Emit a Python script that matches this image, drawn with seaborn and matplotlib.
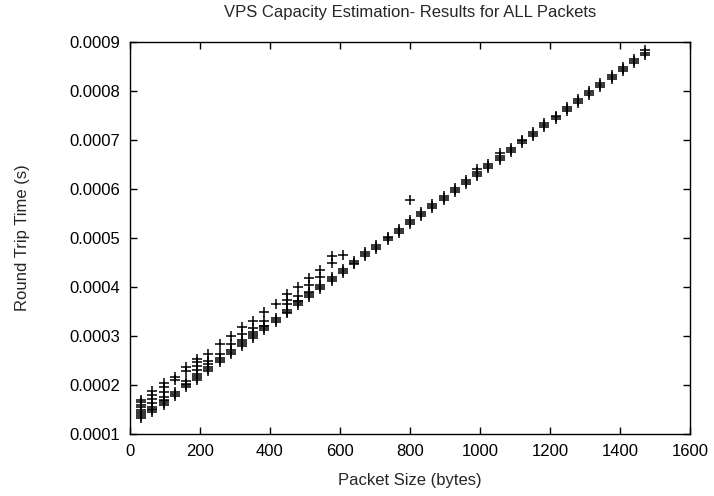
"""VPS capacity estimation: round trip time against packet size."""

import matplotlib

matplotlib.use("Agg")

import matplotlib.pyplot as plt
import pandas as pd
import seaborn as sns

# packet sizes probed (bytes)
sizes = [32, 64, 96, 128, 160, 192, 224, 256, 288, 320, 352, 384, 416, 448,
         480, 512, 544, 576, 608, 640, 672, 704, 736, 768, 800, 832, 864,
         896, 928, 960, 992, 1024, 1056, 1088, 1120, 1152, 1184, 1216, 1248,
         1280, 1312, 1344, 1376, 1408, 1440, 1472]

# dense group of samples per size, in microseconds
rtt_min = [132, 144, 160, 177, 195, 211, 229, 247, 264, 280, 296, 313, 329,
           346, 363, 380, 396, 412, 428, 446, 463, 478, 495, 511, 528, 545,
           561, 578, 594, 610, 627, 643, 660, 676, 693, 709, 726, 742, 759,
           775, 792, 808, 825, 841, 858, 874]
rtt_median = [136, 148, 164, 181, 199, 215, 233, 251, 268, 284, 300, 317, 333,
              350, 367, 384, 400, 416, 432, 450, 467, 482, 499, 515, 532, 549,
              565, 582, 598, 614, 631, 647, 664, 680, 697, 713, 730, 746, 763,
              779, 796, 812, 829, 845, 862, 878]
rtt_max = [140, 152, 168, 185, 203, 219, 237, 255, 272, 288, 304, 321, 337,
           354, 371, 388, 404, 420, 436, 454, 472, 486, 503, 519, 536, 553,
           569, 586, 602, 618, 635, 651, 668, 684, 701, 717, 734, 750, 767,
           783, 800, 816, 833, 849, 866, 883]

# stray slower samples sitting above the main band
extra_size = [32, 32, 32, 32, 32, 32, 64, 64, 64, 64, 64, 96, 96, 96, 96, 96,
              128, 128, 160, 160, 160, 192, 192, 192, 192, 192, 224, 224, 224,
              256, 256, 288, 288, 320, 320, 320, 352, 352, 352, 384, 384, 384,
              416, 448, 448, 448, 480, 480, 480, 512, 512, 512, 544, 544, 576,
              576, 608, 800, 992, 1056]
extra_rtt = [145, 150, 155, 160, 165, 170, 156, 164, 172, 180, 188, 170, 176,
             185, 195, 205, 210, 216, 208, 229, 236, 223, 230, 239, 246, 253,
             242, 249, 264, 263, 283, 283, 300, 292, 305, 319, 309, 317, 331,
             321, 331, 348, 365, 366, 373, 386, 372, 382, 401, 389, 404, 418,
             420, 435, 450, 464, 465, 578, 641, 673]


def build_frame() -> pd.DataFrame:
    frames = [
        pd.DataFrame({"size": sizes, "rtt": rtt_min}),
        pd.DataFrame({"size": sizes, "rtt": rtt_median}),
        pd.DataFrame({"size": sizes, "rtt": rtt_max}),
        pd.DataFrame({"size": extra_size, "rtt": extra_rtt}),
    ]
    df = pd.concat(frames, ignore_index=True)
    df["rtt_s"] = df["rtt"] * 1e-6
    return df


def main() -> None:
    sns.set_style("ticks")
    plt.rcParams["font.family"] = ["Liberation Sans", "DejaVu Sans"]
    plt.rcParams["font.size"] = 12

    df = build_frame()

    fig = plt.figure(figsize=(7.14, 4.96), dpi=100)
    ax = fig.add_axes([130 / 714, 1 - 434 / 496, 560 / 714, 392 / 496])

    sns.scatterplot(data=df, x="size", y="rtt_s", marker="+", color="black",
                    s=50, linewidth=1.1, ax=ax, legend=False)

    ax.set_xlim(0, 1600)
    ax.set_ylim(0.0001, 0.0009)
    ax.set_xticks(range(0, 1601, 200))
    ax.set_yticks([0.0001, 0.0002, 0.0003, 0.0004, 0.0005, 0.0006, 0.0007,
                   0.0008, 0.0009])
    ax.set_yticklabels(["0.0001", "0.0002", "0.0003", "0.0004", "0.0005",
                        "0.0006", "0.0007", "0.0008", "0.0009"])
    ax.tick_params(direction="in", length=5, width=1, top=True, right=True,
                   labelsize=12, colors="black")
    ax.tick_params(axis="y", pad=7)
    ax.tick_params(axis="x", pad=7)
    for spine in ax.spines.values():
        spine.set_visible(True)
        spine.set_linewidth(1.0)
        spine.set_color("black")

    ax.set_xlabel("Packet Size (bytes)", fontsize=12)
    ax.set_ylabel("Round Trip Time (s)", fontsize=12)
    ax.xaxis.set_label_coords(0.5, -0.1)
    ax.yaxis.set_label_coords(-0.178, 0.5)

    fig.text(410 / 714, 1 - 12 / 496, "VPS Capacity Estimation- Results for ALL Packets",
             ha="center", va="center", fontsize=12)

    fig.savefig("out.png", dpi=100)
    plt.close(fig)


if __name__ == "__main__":
    main()
